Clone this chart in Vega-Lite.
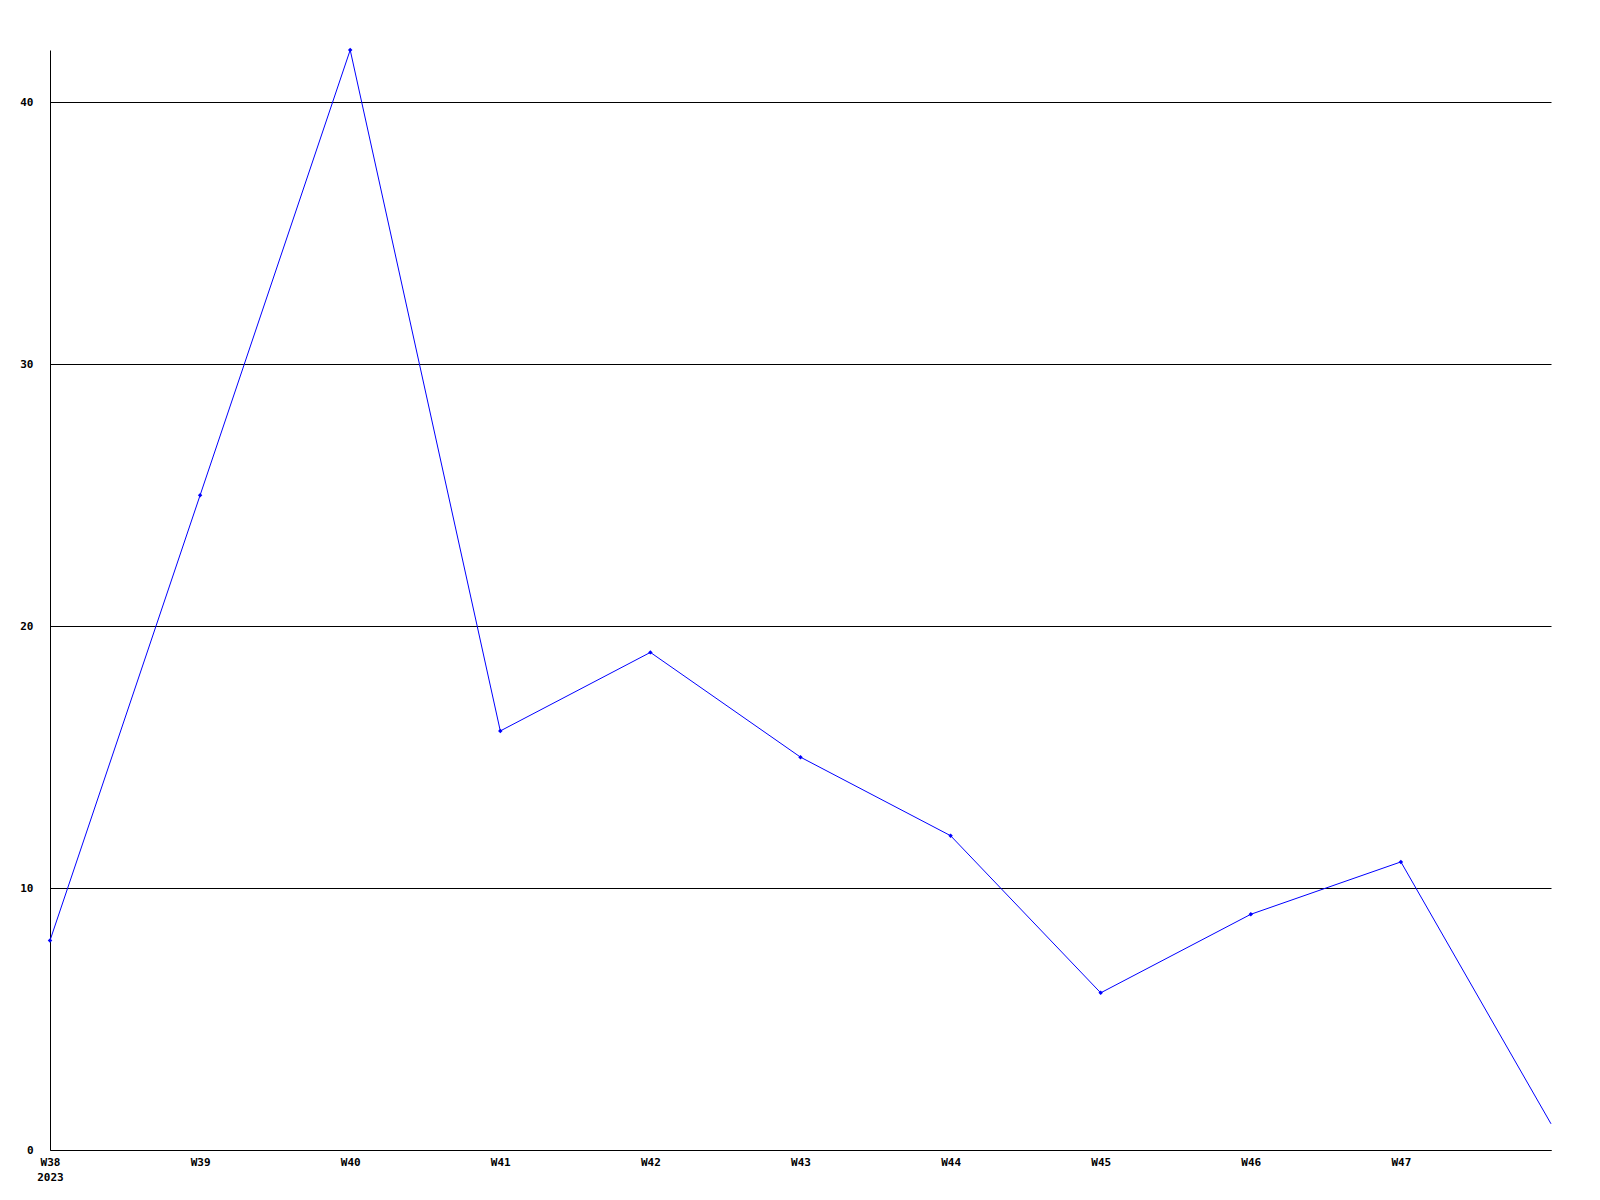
{
  "$schema": "https://vega.github.io/schema/vega-lite/v6.json",
  "width": 1501,
  "height": 1100,
  "autosize": {"type": "none"},
  "padding": {"left": 50, "top": 50, "right": 49, "bottom": 50},
  "background": "white",
  "config": {"view": {"stroke": null}},
  "data": {"values": [
    {"week": "W38", "value": 8},
    {"week": "W39", "value": 25},
    {"week": "W40", "value": 42},
    {"week": "W41", "value": 16},
    {"week": "W42", "value": 19},
    {"week": "W43", "value": 15},
    {"week": "W44", "value": 12},
    {"week": "W45", "value": 6},
    {"week": "W46", "value": 9},
    {"week": "W47", "value": 11},
    {"week": "W48", "value": 1}
  ]},
  "encoding": {
    "x": {
      "field": "week", "type": "ordinal",
      "scale": {"type": "point", "padding": 0},
      "axis": {
        "title": null, "labelAngle": 0, "ticks": false,
        "domainColor": "black", "domainWidth": 1,
        "labelFont": "DejaVu Sans Mono", "labelFontWeight": "bold", "labelFontSize": 11,
        "labelColor": "black", "labelPadding": 6, "labelLineHeight": 15,
        "labelExpr": "datum.value == 'W38' ? ['W38', '2023'] : (datum.value == 'W48' ? '' : datum.value)",
        "grid": false
      }
    },
    "y": {
      "field": "value", "type": "quantitative",
      "scale": {"domain": [0, 42], "nice": false},
      "axis": {
        "title": null, "values": [0, 10, 20, 30, 40], "ticks": false,
        "domainColor": "black", "domainWidth": 1,
        "grid": true, "gridColor": "black", "gridWidth": 1, "gridOpacity": 1,
        "labelFont": "DejaVu Sans Mono", "labelFontWeight": "bold", "labelFontSize": 11,
        "labelColor": "black", "labelPadding": 17
      }
    }
  },
  "layer": [
    {"mark": {"type": "line", "color": "#0000ff", "strokeWidth": 1}},
    {
      "transform": [{"filter": "datum.week != 'W48'"}],
      "mark": {"type": "point", "shape": "diamond", "filled": true, "color": "#0000ff", "size": 20, "opacity": 1}
    }
  ]
}
